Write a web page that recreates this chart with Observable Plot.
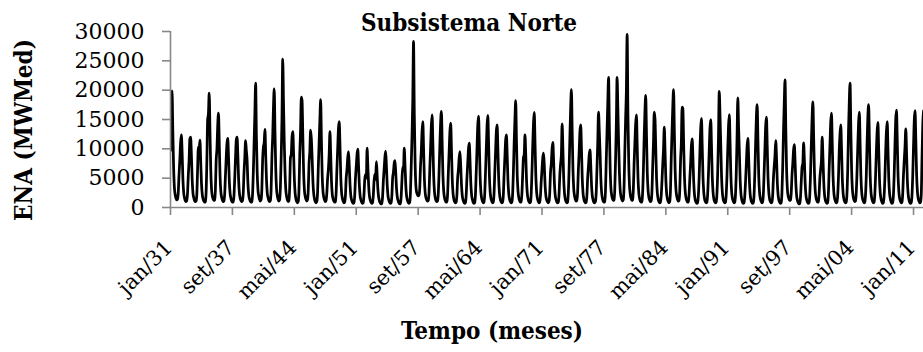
<!DOCTYPE html>
<html><head><meta charset="utf-8">
<script src="https://cdn.jsdelivr.net/npm/d3@7"></script>
<script src="https://cdn.jsdelivr.net/npm/@observablehq/plot@0.6"></script>
<style>
html,body{margin:0;padding:0;background:#fff;overflow:hidden}
</style></head><body><div id="chart"></div>
<script>
// Monthly ENA (MWMed), Subsistema Norte, starting jan/1931 (12 values per year)
const ena1930s = [
  9700,15500,19900,13000,7000,3500,2200,1600,1300,1400,2500,5500,   // 1931
  8000,11000,12400,9500,5000,2600,1700,1200,1000,1200,2400,5500,    // 1932
  8000,11700,12000,9000,4800,2500,1700,1200,1000,1100,2200,6500,    // 1933
  10300,9600,11500,8000,4200,2300,1500,1100,900,1000,2500,8000,     // 1934
  15000,16000,19500,13000,6500,3200,2000,1500,1200,1300,3000,8000,  // 1935
  10000,14000,16100,11000,5500,2800,1800,1300,1000,1100,2300,5500,  // 1936
  8500,11000,11800,8500,4500,2400,1600,1100,900,1000,2000,5000,     // 1937
  8500,11500,12000,9000,4800,2500,1600,1200,1000,1200,2500,6000,    // 1938
  8500,11400,9700,8000,4200,2300,1500,1100,900,1000,2200,6000       // 1939
];
const ena1940s = [
  11000,16000,21200,12000,6000,3000,2000,1400,1100,1300,3000,8000,  // 1940
  10300,11000,13300,9000,4800,2500,1700,1200,1000,1200,3000,8500,   // 1941
  12000,17000,20200,13000,6500,3200,2000,1400,1100,1300,3500,8500,  // 1942
  15000,25300,18000,11000,6000,3000,1900,1300,1000,1200,3500,8500,  // 1943
  9000,12000,12950,9500,5000,2500,1500,1000,800,1000,3000,9000,     // 1944
  13000,18800,18200,12000,6000,3000,1900,1400,1100,1300,3000,7500,  // 1945
  9500,13200,11700,8500,4500,2400,1500,1000,800,1000,2500,7000,     // 1946
  11000,15000,18400,11500,5500,2800,1800,1300,1000,1200,2500,5000,  // 1947
  6500,9100,12950,9000,4500,2300,1500,1100,900,1000,2500,6500,      // 1948
  10000,13500,14650,10500,5200,2600,1600,1100,800,900,2000,5000     // 1949
];
const ena1950s = [
  6500,8500,9540,7000,3800,2000,1300,900,700,800,2000,5000,         // 1950
  7000,9000,9940,7000,3800,2000,1300,900,700,800,2200,4800,         // 1951
  5600,5000,10100,7000,3800,2000,1300,900,700,800,2000,4500,        // 1952
  5700,4800,7800,5500,3000,1700,1100,800,600,700,1800,4500,         // 1953
  6500,8500,9600,7000,3800,2000,1300,900,700,800,2000,5000,         // 1954
  6000,7500,8000,6000,3300,1800,1200,800,600,700,1800,4500,         // 1955
  6900,6200,10100,7200,3800,2000,1300,900,700,900,2500,7000,        // 1956
  12000,18200,28300,16000,8000,3800,2600,2200,2000,2100,3200,7000,  // 1957
  9500,13000,14650,10000,5000,2600,1700,1300,1100,1200,2500,6500,   // 1958
  10000,14000,15800,11000,5500,2800,1700,1200,1000,1100,2400,6000   // 1959
];
const ena1960s = [
  10500,14500,16400,11000,5500,2800,1700,1200,900,1000,2200,6000,   // 1960
  9500,13000,14400,10000,5000,2500,1500,1000,800,900,2000,5000,     // 1961
  6500,8500,9540,7000,3800,2000,1300,900,700,800,2000,5000,         // 1962
  7500,10000,10960,8000,4200,2200,1400,900,700,800,2200,6000,       // 1963
  10000,14000,15560,11000,5500,2700,1600,1100,800,900,2300,6000,    // 1964
  10000,14000,15700,11000,5500,2700,1600,1100,800,900,2300,6000,    // 1965
  9500,13000,14100,10000,5000,2500,1500,1000,800,900,2000,5500,     // 1966
  8500,11500,12400,9000,4700,2400,1500,1000,800,900,2200,6000,      // 1967
  11000,15000,18200,11500,5500,2800,1700,1200,900,1000,2300,5500,   // 1968
  8500,9000,12400,9000,4700,2400,1500,1000,800,900,2200,6000        // 1969
];
const ena1970s = [
  10500,14500,16200,11000,5500,2700,1600,1100,800,900,2000,4500,    // 1970
  6500,8500,9260,7000,3800,2000,1300,1000,800,1000,2500,6000,       // 1971
  7500,10000,11080,8000,4200,2200,1400,1000,800,900,2200,5500,      // 1972
  7400,9000,14260,10000,5000,2500,1500,1000,800,900,2500,6500,      // 1973
  12000,17000,20100,13000,6500,3200,2000,1400,1100,1200,2600,6500,  // 1974
  9500,13000,14100,10000,5000,2500,1500,1000,800,900,2000,5000,     // 1975
  7000,9000,9830,7200,3800,2000,1300,900,800,1000,2500,6500,        // 1976
  11000,16250,13100,9500,5000,2600,1600,1100,900,1000,2800,8000,    // 1977
  13000,18000,22200,14000,7000,3400,2100,1500,1200,1300,3000,8000,  // 1978
  14000,22200,17000,11000,6000,3000,1900,1400,1100,1300,3500,9500   // 1979
];
const ena1980s = [
  15000,20000,29500,16000,8000,3800,2300,1600,1200,1300,3000,7500,  // 1980
  11000,14300,15800,10500,5200,2600,1600,1100,900,1000,2500,6500,   // 1981
  12000,16500,19100,12500,6000,3000,1800,1300,1000,1100,2600,7000,  // 1982
  11000,16250,15100,10000,5000,2500,1500,1000,800,900,2000,4500,    // 1983
  7400,10000,13700,9500,4800,2400,1500,1000,800,1000,3000,8500,     // 1984
  13000,17400,20100,13000,6500,3200,2000,1400,1100,1200,3000,8000,  // 1985
  11000,17100,16900,11000,5500,2800,1700,1200,900,1000,2200,5000,   // 1986
  7500,10500,11700,8500,4400,2200,1300,900,700,800,2000,5000,       // 1987
  9500,13500,15200,10500,5200,2600,1500,1000,800,900,2200,5500,     // 1988
  9500,13500,15000,10500,5200,2600,1500,1000,800,900,2300,6000      // 1989
];
const ena1990s = [
  12000,19800,15700,10500,5200,2600,1500,1000,800,900,2200,5500,    // 1990
  10000,14000,15850,11000,5500,2700,1600,1100,800,900,2200,6000,    // 1991
  12000,18700,13700,9500,4800,2400,1400,900,700,800,2000,4500,      // 1992
  7500,10500,11800,8500,4400,2200,1300,900,700,800,2200,6000,       // 1993
  11000,15500,17550,11500,5500,2700,1600,1100,800,900,2300,6000,    // 1994
  10000,14000,15400,10500,5200,2600,1500,1000,800,900,2000,5000,    // 1995
  7000,8800,11400,8500,4400,2200,1300,900,700,800,2500,7000,        // 1996
  13000,18000,21750,13500,6500,3200,2000,1500,1200,1300,2500,5500,  // 1997
  7500,9800,10700,7800,4000,2000,1200,800,600,700,1800,4500,        // 1998
  6900,7500,11000,8000,4200,2100,1300,900,700,800,2200,6000         // 1999
];
const ena2000s = [
  11000,15500,18000,12000,6000,2900,1700,1200,900,1000,2200,5000,   // 2000
  6500,8000,12000,8500,4400,2200,1300,900,700,800,2300,6500,        // 2001
  10500,14500,16100,11000,5500,2700,1600,1100,800,900,2000,5000,    // 2002
  9500,12500,14100,10000,5000,2500,1500,1000,800,900,2300,6500,     // 2003
  13000,18000,21200,13500,6500,3200,1900,1300,1000,1100,2500,6000,  // 2004
  10500,14500,16250,11000,5500,2700,1600,1100,800,900,2200,5500,    // 2005
  11000,15500,17550,11500,5500,2700,1600,1100,800,900,2200,5500,    // 2006
  9500,13000,14500,10000,5000,2500,1500,1000,700,800,2000,5000,     // 2007
  9500,13000,14650,10000,5000,2500,1500,1000,700,800,2000,5500,     // 2008
  10500,15000,16600,11500,5600,2800,1600,1100,800,900,2200,5500     // 2009
];
const ena2010s = [
  8000,10300,13400,9500,4800,2400,1400,900,700,800,2000,5500,       // 2010
  10500,15000,16500,11500,5600,2800,1600,1100,800,900,2200,8500,    // 2011
  14300,16500                                                        // 2012
];

const yTicks = [0, 5000, 10000, 15000, 20000, 25000, 30000];
const xTickMonths = [0, 80, 160, 240, 320, 400, 480, 560, 640, 720, 800, 880, 960];
const xTickLabels = ["jan/31","set/37","mai/44","jan/51","set/57","mai/64","jan/71","set/77","mai/84","jan/91","set/97","mai/04","jan/11"];

const values = [...ena1930s, ...ena1940s, ...ena1950s, ...ena1960s, ...ena1970s,
                ...ena1980s, ...ena1990s, ...ena2000s, ...ena2010s];
const data = values.map((v, i) => ({m: i, v}));

const gray = "#878787";
const boldFont = "'DejaVu Serif Condensed', 'DejaVu Serif', serif";

const chart = Plot.plot({
  width: 923,
  height: 352,
  marginLeft: 170,
  marginRight: 0,
  marginTop: 31,
  marginBottom: 145,
  style: {fontFamily: "'DejaVu Serif', serif", fontSize: "22px", color: "#000", background: "#fff"},
  x: {domain: [0, 972.9], axis: null},
  y: {domain: [0, 30000], axis: null},
  marks: [
    Plot.line(data, {x: "m", y: "v", stroke: "#000", strokeWidth: 2.75, curve: "monotone-x", clip: true}),
    Plot.ruleX([0], {stroke: gray, strokeWidth: 1.6}),
    Plot.ruleY([0], {stroke: gray, strokeWidth: 1.6}),
    Plot.axisY(yTicks, {
      label: null, tickSize: 8, tickPadding: 18, stroke: gray, strokeWidth: 1.6,
      tickFormat: d => String(d), fontSize: 22
    }),
    Plot.axisX(xTickMonths, {
      label: null, tickSize: 8, stroke: gray, strokeWidth: 1.6,
      tickFormat: () => ""
    }),
    Plot.text(xTickMonths, {
      x: d => d, text: d => xTickLabels[xTickMonths.indexOf(d)],
      frameAnchor: "bottom", dx: -1.5, dy: 36.5, rotate: -45,
      textAnchor: "end", lineAnchor: "middle", fontSize: 21
    }),
    Plot.text(["Subsistema Norte"], {
      frameAnchor: "top", dx: -78, dy: -1, lineAnchor: "bottom",
      fontWeight: "bold", fontSize: 24, fontFamily: boldFont
    }),
    Plot.text(["ENA (MWMed)"], {
      frameAnchor: "left", dx: -145.7, dy: 10.5, rotate: -90, textAnchor: "middle",
      fontWeight: "bold", fontSize: 24, fontFamily: boldFont
    }),
    Plot.text(["Tempo (meses)"], {
      frameAnchor: "bottom", dx: -55, dy: 131,
      fontWeight: "bold", fontSize: 24, fontFamily: boldFont
    })
  ]
});
document.getElementById("chart").appendChild(chart);
</script>
</body></html>
